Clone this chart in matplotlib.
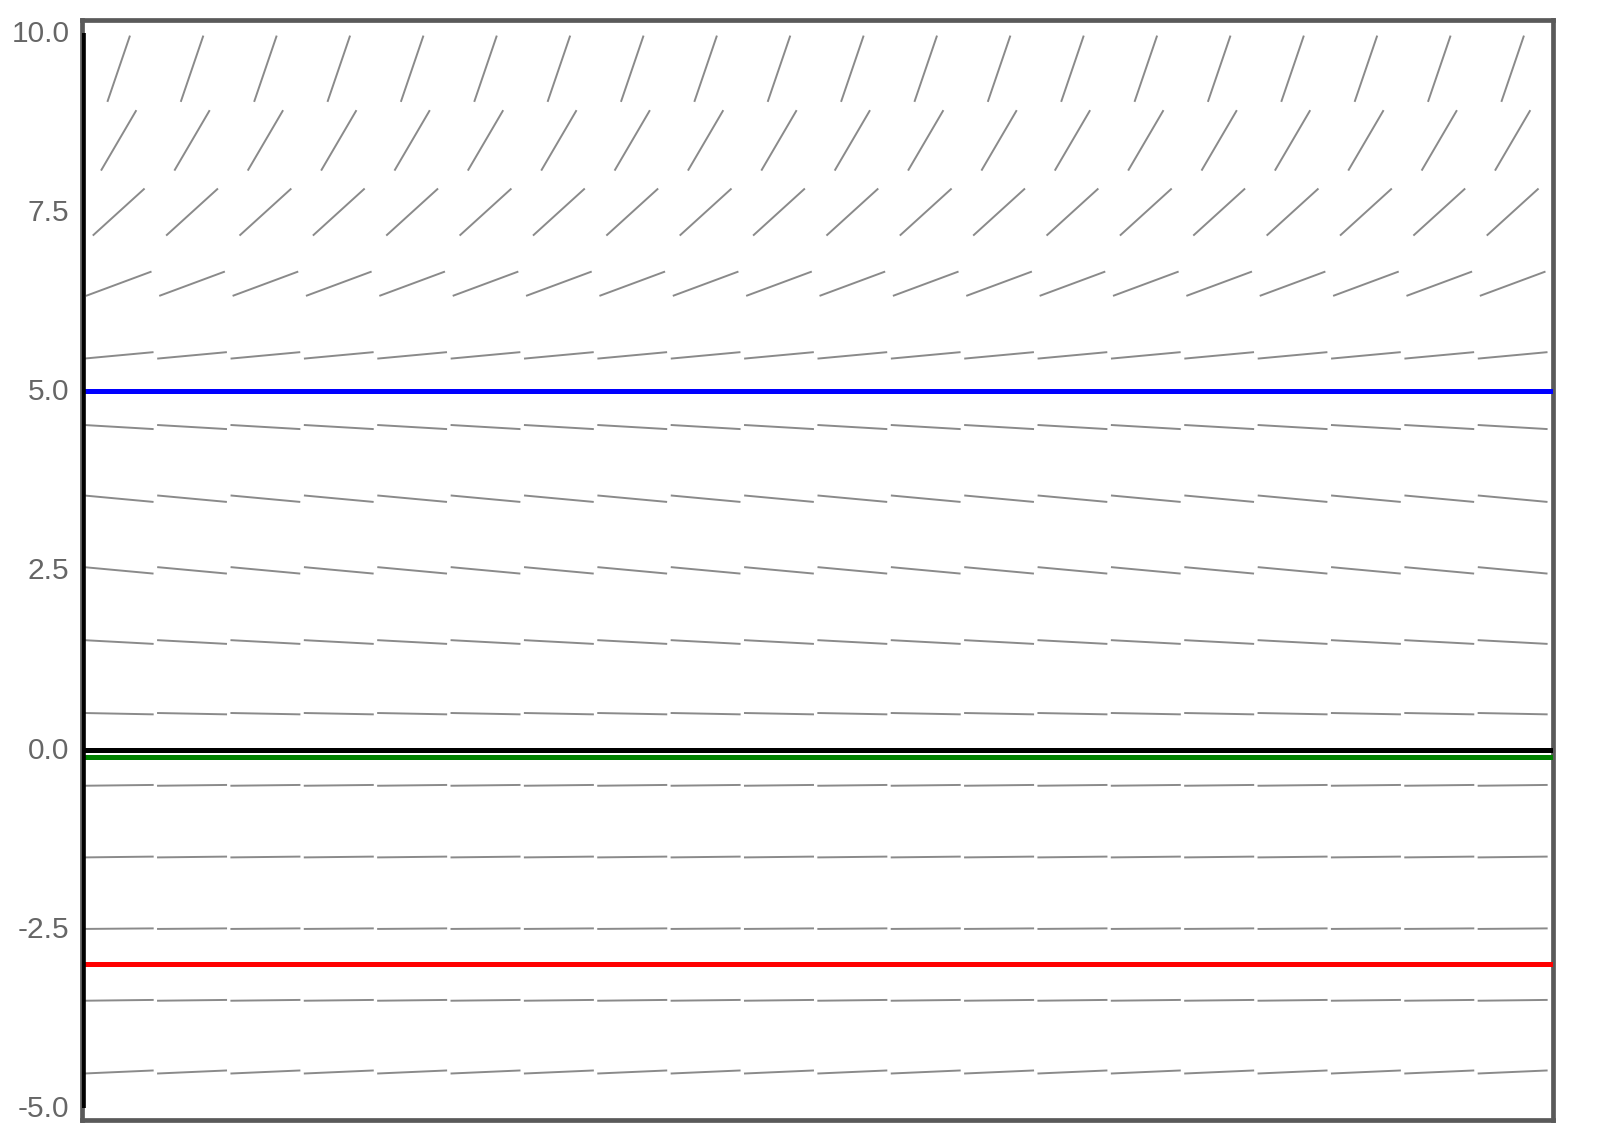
import numpy as np
import matplotlib
matplotlib.use('Agg')
import matplotlib.pyplot as plt
import matplotlib.transforms as mtransforms
from matplotlib.collections import LineCollection

plt.rcParams['font.family'] = ['Liberation Sans', 'DejaVu Sans']

# slope field: one slope per row (same in every column)
row_y = [9.5, 8.5, 7.5, 6.5, 5.5, 4.5, 3.5, 2.5, 1.5, 0.5, -0.5, -1.5, -2.5, -3.5, -4.5]
row_slope = [3.0, 1.75, 0.93, 0.38, 0.095, -0.06, -0.095, -0.095, -0.055, -0.02,
             0.012, 0.012, 0.008, 0.012, 0.045]
col_x = [i + 0.5 for i in range(20)]

# equilibrium lines
eq_y = [5.0, -0.1, -3.0]
eq_colors = ['#0000ff', '#008000', '#ff0000']

yticks = [-5.0, -2.5, 0.0, 2.5, 5.0, 7.5, 10.0]

W, H = 1618, 1123
fig = plt.figure(figsize=(W / 100, H / 100), dpi=100)
left, right, top, bottom = 82, 1553, 20, 1120
ax = fig.add_axes([left / W, 1 - bottom / H, (right - left) / W, (bottom - top) / H])

xmin, xmax = 0, 20.05
ymin, ymax = -5.17, 10.18
ax.set_xlim(xmin, xmax)
ax.set_ylim(ymin, ymax)

# pixels per data unit
sx = (right - left) / (xmax - xmin)
sy = (bottom - top) / (ymax - ymin)
half = 35.0  # half segment length in pixels

segs = []
for y, m in zip(row_y, row_slope):
    norm = np.hypot(sx, m * sy)
    dx = half / norm
    dy = half * m / norm
    for x in col_x:
        segs.append([(x - dx, y - dy), (x + dx, y + dy)])
ax.add_collection(LineCollection(segs, colors='#8a8a8a', linewidths=1.4, zorder=2))

for y, c in zip(eq_y, eq_colors):
    ax.plot([xmin, xmax], [y, y], color=c, lw=3.6, solid_capstyle='butt', zorder=3)

# axis lines
ax.plot([xmin, xmax], [0, 0], color='black', lw=3.6, solid_capstyle='butt', zorder=4)
ax.plot([0, 0], [-5, 10], color='black', lw=5.5, solid_capstyle='butt', zorder=5)

for s in ax.spines.values():
    s.set_color('#5a5a5a')
    s.set_linewidth(3.4)

ax.set_xticks([])
ax.set_yticks(yticks)
ax.set_yticklabels(['%.1f' % t for t in yticks])
ax.tick_params(axis='y', length=0, pad=9, labelsize=21.5, labelcolor='#666666')
# nudge the labels up a little so the bottom one stays inside the figure
shift = mtransforms.ScaledTranslation(0, 2 / 100, fig.dpi_scale_trans)
for lab in ax.get_yticklabels():
    lab.set_transform(lab.get_transform() + shift)

fig.savefig('out.png', dpi=100)
